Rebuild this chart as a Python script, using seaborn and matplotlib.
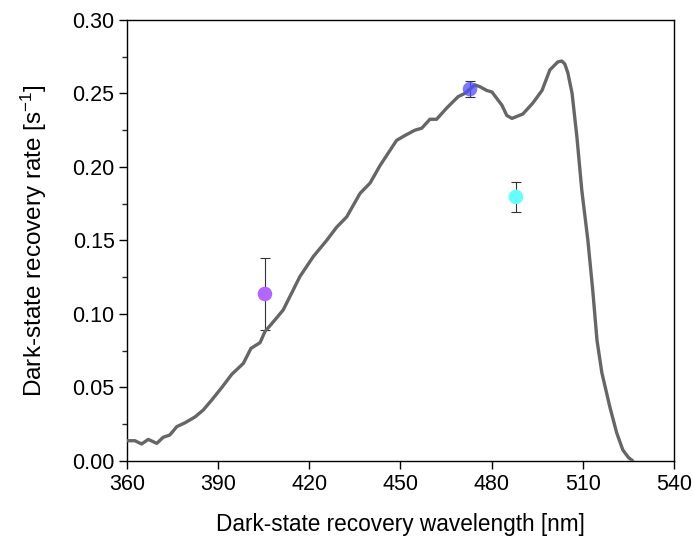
import matplotlib
matplotlib.use("Agg")
import matplotlib.pyplot as plt
import seaborn as sns
import pandas as pd
from matplotlib.ticker import MultipleLocator

# Spectrum curve
wavelength = [360.3, 362.6, 364.8, 367.0, 369.8, 371.9, 374.1, 376.4, 379.1, 382.4,
              385.1, 387.9, 391.2, 394.5, 398.3, 400.8, 403.8, 405.4, 408.7, 411.4,
              414.7, 416.9, 421.3, 425.7, 429.0, 432.3, 436.7, 440.0, 443.3, 444.9,
              448.7, 451.5, 454.8, 457.0, 459.7, 461.9, 465.2, 469.0, 471.2, 474.5,
              476.2, 478.4, 480.1, 483.4, 485.0, 486.7, 490.3, 493.6, 496.6, 499.2,
              501.8, 503.1, 504.1, 505.1, 506.5, 508.1, 509.7, 511.7, 513.3, 514.7,
              516.3, 518.9, 521.2, 523.2, 525.0, 526.5]
rate = [0.0138, 0.0138, 0.0116, 0.0147, 0.0120, 0.0161, 0.0177, 0.0234, 0.0260, 0.0300,
        0.0347, 0.0415, 0.0500, 0.0590, 0.0664, 0.0766, 0.0805, 0.0880, 0.0960, 0.1027,
        0.1163, 0.1254, 0.1390, 0.1500, 0.1590, 0.1660, 0.1820, 0.1890, 0.2010, 0.2060,
        0.2180, 0.2214, 0.2250, 0.2263, 0.2324, 0.2324, 0.2400, 0.2478, 0.2500, 0.2558,
        0.2545, 0.2520, 0.2510, 0.2420, 0.2350, 0.2330, 0.2360, 0.2435, 0.2520, 0.2660,
        0.2714, 0.2720, 0.2700, 0.2640, 0.2500, 0.2200, 0.1840, 0.1500, 0.1160, 0.0820,
        0.0600, 0.0370, 0.0190, 0.0075, 0.0025, 0.0000]

# Measured points
pt_wl = [405.4, 472.9, 488.0]
pt_rate = [0.1136, 0.2529, 0.1796]
pt_err = [0.0245, 0.0055, 0.0100]
pt_colors = ["#b366ff", "#4d4dff", "#66ffff"]
pt_alpha = [1.0, 0.75, 1.0]

sns.set_style("white")
plt.rcParams['font.family'] = ['Liberation Sans', 'DejaVu Sans']
plt.rcParams['mathtext.default'] = 'regular'
plt.rcParams['text.color'] = 'black'
plt.rcParams['axes.labelcolor'] = 'black'

fig = plt.figure(figsize=(6.94, 5.37), dpi=100)
ax = fig.add_axes([0.183, 0.1415, 0.788, 0.8215])

curve = pd.DataFrame({"wl": wavelength, "rate": rate})
pts = pd.DataFrame({"wl": pt_wl, "rate": pt_rate, "err": pt_err})

for i in range(len(pt_wl)):
    ax.errorbar(pt_wl[i], pt_rate[i], yerr=pt_err[i], fmt='none', ecolor='#333333',
                elinewidth=0.8, capsize=3.5, capthick=0.8, zorder=2)

for i in range(len(pt_wl)):
    sub = pts.iloc[[i]]
    sns.scatterplot(data=sub, x="wl", y="rate", color=pt_colors[i], s=110,
                    edgecolor='none', alpha=pt_alpha[i], ax=ax, zorder=3 if i != 1 else 5)

sns.lineplot(data=curve, x="wl", y="rate", color="#666666", linewidth=2.4, ax=ax,
             zorder=4)

ax.set_xlim(360, 540)
ax.set_ylim(0, 0.30)
ax.xaxis.set_major_locator(MultipleLocator(30))
ax.yaxis.set_major_locator(MultipleLocator(0.05))
ax.yaxis.set_minor_locator(MultipleLocator(0.025))
ax.yaxis.set_major_formatter(matplotlib.ticker.FormatStrFormatter('%.2f'))

for s in ax.spines.values():
    s.set_visible(True)
    s.set_color('black')
    s.set_linewidth(1.0)

ax.tick_params(axis='both', which='major', direction='out', length=6, width=1, pad=3,
               labelsize=15.5, colors='black', bottom=True, left=True, top=False, right=False)
ax.tick_params(axis='y', which='minor', direction='out', length=3.5, width=1, left=True)

ax.set_xlabel("Dark-state recovery wavelength [nm]", fontsize=16.3, labelpad=13, color='black')
ax.set_ylabel("Dark-state recovery rate [s$^{-1}$]", fontsize=17.5, labelpad=17, color='black')

fig.savefig("out.png", dpi=100)
